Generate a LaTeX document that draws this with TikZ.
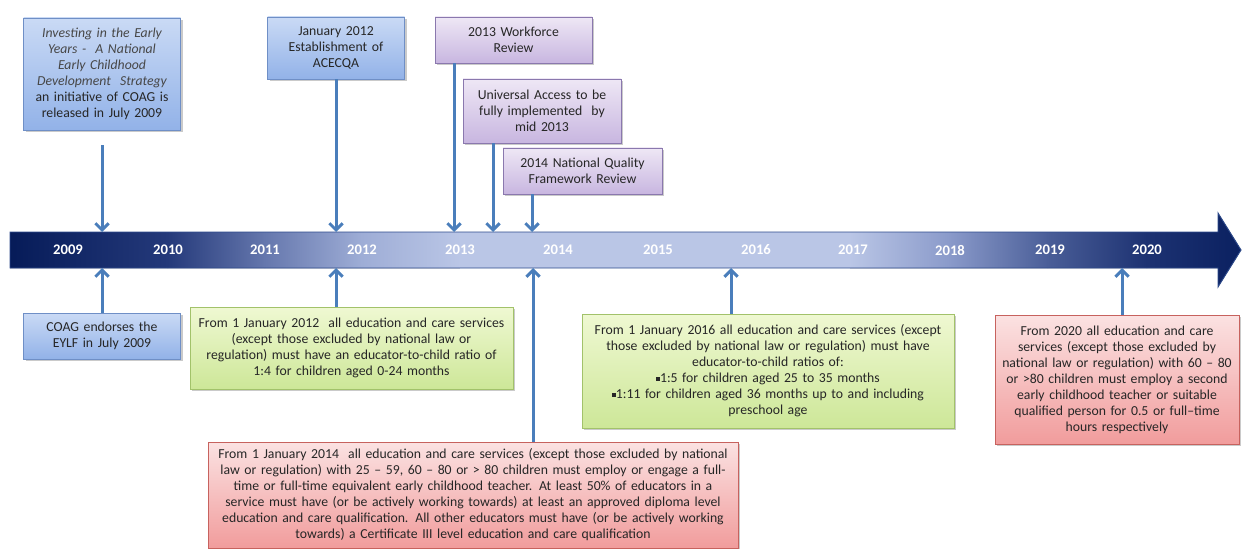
\documentclass[tikz,border=0pt]{standalone}
\usepackage{fontspec}
\setmainfont{Carlito}
\usetikzlibrary{arrows.meta,shadows}
\definecolor{txt}{HTML}{262626}
\definecolor{conncol}{HTML}{4A7EBB}
\definecolor{bluetop}{HTML}{CADAF5}
\definecolor{bluebot}{HTML}{92B2E8}
\definecolor{blueline}{HTML}{6F8FC6}
\definecolor{purtop}{HTML}{EEE7F5}
\definecolor{purbot}{HTML}{C8B6E0}
\definecolor{purline}{HTML}{8A78AE}
\definecolor{grntop}{HTML}{EFF8D2}
\definecolor{grnbot}{HTML}{CDE798}
\definecolor{grnline}{HTML}{A2C26A}
\definecolor{redtop}{HTML}{FBE2E2}
\definecolor{redbot}{HTML}{F19C9C}
\definecolor{redline}{HTML}{C7625E}
\definecolor{n0}{HTML}{061B58}
\definecolor{n1}{HTML}{24397A}
\definecolor{n2}{HTML}{6577AD}
\definecolor{n3}{HTML}{9EADD6}
\definecolor{n4}{HTML}{BAC6E6}
\definecolor{n5}{HTML}{8A9ACA}
\definecolor{n6}{HTML}{4A5E98}
\definecolor{n7}{HTML}{1D3272}
\definecolor{n8}{HTML}{0A2060}
\definecolor{baredge}{HTML}{2E4B8C}
\tikzset{
  box/.style={rectangle, draw, line width=0.5pt, align=center, inner sep=0pt,
    text=txt, font=\fontsize{10.3}{12}\selectfont,
    drop shadow={shadow xshift=1.6pt, shadow yshift=-1.6pt, opacity=0.35, fill=black!60}},
  bluebox/.style={box, draw=blueline, top color=bluetop, bottom color=bluebot},
  purbox/.style={box, draw=purline, top color=purtop, bottom color=purbot},
  grnbox/.style={box, draw=grnline, top color=grntop, bottom color=grnbot},
  redbox/.style={box, draw=redline, top color=redtop, bottom color=redbot},
  conn/.style={draw=conncol, line width=2.25pt, -{Straight Barb[length=5pt,width=10pt]}},
  year/.style={text=white, font=\fontsize{11}{13}\selectfont\bfseries, inner sep=0pt}
}
\newcommand{\sqb}{\raisebox{0.3ex}{\rule{0.28em}{0.28em}}}
\begin{document}
\begin{tikzpicture}[x=0.75pt,y=-0.75pt]
\useasboundingbox (0,0) rectangle (1242,549);
% timeline bar
\begin{scope}
\clip (10,232) -- (1218,232) -- (1218,213) -- (1241,250) -- (1218,287) -- (1218,268) -- (10,268) -- cycle;
\fill[left color=n0, right color=n1] (9,210) rectangle (168,290);
\fill[left color=n1, right color=n2] (167.5,210) rectangle (265,290);
\fill[left color=n2, right color=n3] (264.5,210) rectangle (362,290);
\fill[left color=n3, right color=n4] (361.5,210) rectangle (460,290);
\fill[n4] (459.5,210) rectangle (850,290);
\fill[left color=n4, right color=n5] (849.5,210) rectangle (950,290);
\fill[left color=n5, right color=n6] (949.5,210) rectangle (1048,290);
\fill[left color=n6, right color=n7] (1047.5,210) rectangle (1147,290);
\fill[left color=n7, right color=n8] (1146.5,210) rectangle (1243,290);
\end{scope}
\draw[baredge, line width=0.7pt] (10,232) -- (1218,232) -- (1218,213) -- (1241,250) -- (1218,287) -- (1218,268) -- (10,268) -- cycle;
% years
\foreach \yr/\xx in {2009/68,2010/168,2011/265,2012/362,2013/460,2014/558,2015/658,2016/756,2017/853,2018/950,2019/1050,2020/1147}
  \node[year] (y\yr) at (\xx,250) {\yr};
% connector end points on the bar
\coordinate (t1) at (102,232);
\coordinate (t2) at (336,232);
\coordinate (t3) at (454,232);
\coordinate (t4) at (493,232);
\coordinate (t5) at (532,232);
\coordinate (u1) at (102,268);
\coordinate (u2) at (336,268);
\coordinate (u3) at (533,268);
\coordinate (u4) at (731,268);
\coordinate (u5) at (1122,268);
% top boxes
\node[bluebox, text width=117.75pt, minimum height=84pt] (b1) at (102,74)
  {{\itshape\color{txt!85}Investing in the Early\\ Years -\ \ A National\\ Early Childhood\\ Development\ \ Strategy}\\ an initiative of COAG is\\ released in July 2009};
\node[bluebox, text width=102.75pt, minimum height=46.5pt] (b2) at (336,48)
  {January 2012\\ Establishment of\\ ACECQA};
\node[purbox, text width=117.75pt, minimum height=34.5pt] (p1) at (513.5,40)
  {2013 Workforce\\ Review};
\node[purbox, text width=118.5pt, minimum height=48pt] (p2) at (542,111)
  {Universal Access to be\\ fully implemented\ \ by\\ mid 2013};
\node[purbox, text width=119.25pt, minimum height=34.5pt] (p3) at (582.5,171)
  {2014 National Quality\\ Framework Review};
% bottom boxes
\node[bluebox, text width=117.75pt, minimum height=34.5pt] (b3) at (102,336)
  {COAG endorses the\\ EYLF in July 2009};
\node[grnbox, text width=242.25pt, minimum height=61.5pt] (g1) at (351.5,348)
  {From 1 January 2012\ \ all education and care services\\ (except those excluded by national law or\\ regulation) must have an educator-to-child ratio of\\ 1:4 for children aged 0-24 months};
\node[redbox, text width=397.5pt, minimum height=79.5pt] (r1) at (473,495)
  {From 1 January 2014\ \ all education and care services (except those excluded by national\\ law or regulation) with 25 -- 59, 60 -- 80 or > 80 children must employ or engage a full-\\ time or full-time equivalent early childhood teacher. At least 50\% of educators in a\\ service must have (or be actively working towards) at least an approved diploma level\\ education and care qualification. All other educators must have (or be actively working\\ towards) a Certificate III level education and care qualification};
\node[grnbox, text width=279pt, minimum height=85.5pt] (g2) at (768,371)
  {From 1 January 2016 all education and care services (except\\ those excluded by national law or regulation) must have\\ educator-to-child ratios of:\\ \sqb 1:5 for children aged 25 to 35 months\\ \sqb 1:11 for children aged 36 months up to and including\\ preschool age};
\node[redbox, text width=183pt, minimum height=96.75pt] (r2) at (1117,379.5)
  {From 2020 all education and care\\ services (except those excluded by\\ national law or regulation) with 60 -- 80\\ or >80 children must employ a second\\ early childhood teacher or suitable\\ qualified person for 0.5 or full--time\\ hours respectively};
% connectors
\draw[conn] (b1.south) ++(0,15) -- (t1);
\draw[conn] (b2.south) -- (t2);
\draw[conn] (p1.south -| t3) -- (t3);
\draw[conn] (p2.south -| t4) -- (t4);
\draw[conn] (p3.south -| t5) -- (t5);
\draw[conn] (b3.north) -- (u1);
\draw[conn] (g1.north -| u2) -- (u2);
\draw[conn] (r1.north -| u3) -- (u3);
\draw[conn] (g2.north -| u4) -- (u4);
\draw[conn] (r2.north -| u5) -- (u5);
\end{tikzpicture}
\end{document}
